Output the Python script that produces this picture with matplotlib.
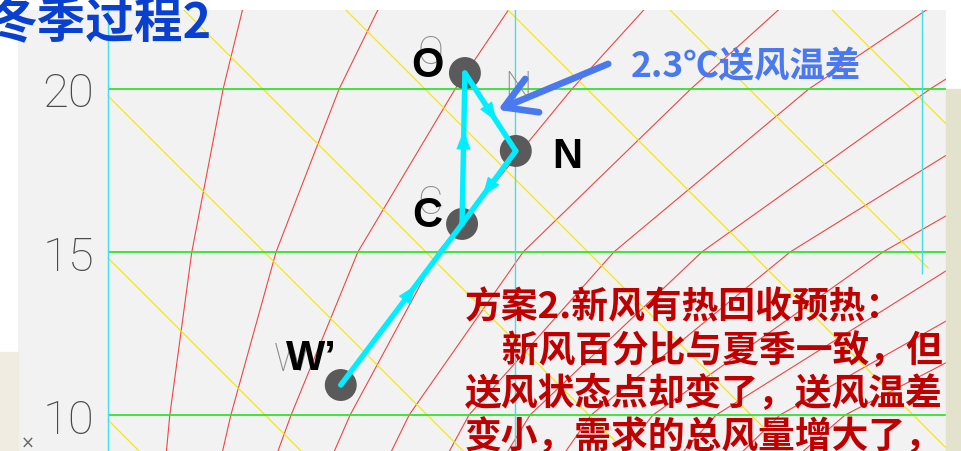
import numpy as np
import matplotlib
matplotlib.use("Agg")
import matplotlib.pyplot as plt
from matplotlib.patches import Rectangle

plt.rcParams['font.family'] = ['Noto Sans CJK SC', 'DejaVu Sans']

# ---- chart data ----
# x: moisture content d (g/kg), y: dry-bulb temperature (C)
rh_T = [22.5, 20, 15, 10, 8.8]
rh_d = [
    [6.332, 6.283, 6.206, 6.152, 6.143],
    [6.666, 6.568, 6.413, 6.302, 6.280],
    [6.988, 6.853, 6.614, 6.450, 6.415],
    [7.322, 7.140, 6.811, 6.595, 6.553],
    [7.654, 7.432, 7.020, 6.740, 6.693],
    [8.020, 7.722, 7.243, 6.887, 6.835],
    [8.339, 8.020, 7.459, 7.037, 6.978],
    [8.671, 8.322, 7.676, 7.187, 7.120],
    [8.973, 8.604, 7.904, 7.339, 7.263],
    [9.224, 8.850, 8.133, 7.494, 7.408],
    [9.469, 9.088, 8.359, 7.651, 7.553],
    [9.715, 9.322, 8.585, 7.811, 7.700],
]
# enthalpy lines: temperature where each meets d = 6, and their slope
h_T0 = [9.85, 14.82, 19.79, 24.75, 29.72, 34.69, 39.66, 44.63]
h_slope = 12.48
h_stop_d = [None, None, None, None, None, None, 8.015, None]

t_lines = [10, 15, 20]
d_lines = [6, 7, 8]
d_line_Tmin = [None, None, 14.33]

state_names = ["W\u2019", "C", "O", "N"]
state_d = [6.572, 6.870, 6.877, 7.002]
state_T = [10.92, 15.86, 20.49, 18.10]
process = [("W\u2019", "C"), ("C", "O"), ("O", "N"), ("N", "C")]

title = "冬季过程2"
note_dT = "2.3℃送风温差"
remark = [
    "方案2.新风有热回收预热：",
    "\u3000新风百分比与夏季一致，但",
    "送风状态点却变了，送风温差",
    "变小，需求的总风量增大了，",
]

XLIM = (5.779, 8.059)
YLIM = (8.896, 22.423)

CYAN = '#00eeff'
BLUE = '#4a78ee'
THIN = ['Roboto', 'Lato', 'DejaVu Sans']

fig = plt.figure(figsize=(9.62, 4.52), dpi=100, facecolor='white')
fig.patches.append(Rectangle((946 / 962, 0), 16 / 962, 0.8, transform=fig.transFigure,
                             color='#e3e2cc', zorder=0))
fig.patches.append(Rectangle((0, 0), 18 / 962, 0.22, transform=fig.transFigure,
                             color='#f1ece1', zorder=0))

ax = fig.add_axes([18 / 962, 0, 928 / 962, 441 / 452])
ax.set_facecolor('#f2f2f2')
for s in ax.spines.values():
    s.set_visible(False)
ax.set_xticks([])

# relative humidity curves
for row in rh_d:
    ax.plot(row, rh_T, color='#f04545', lw=0.8, zorder=2)

# enthalpy lines
for T0, stop in zip(h_T0, h_stop_d):
    d_end = stop if stop else XLIM[1] + 0.1
    ax.plot([6, d_end], [T0, T0 - h_slope * (d_end - 6)], color='#efe31c', lw=0.8, zorder=2)

# temperature and moisture grid
ax.hlines(t_lines, 6, XLIM[1] + 0.1, color='#2ee62e', lw=1.3, zorder=3)
for d, tmin in zip(d_lines, d_line_Tmin):
    ax.vlines(d, tmin if tmin else YLIM[0] - 1, YLIM[1] + 1, color='#3fe0e8', lw=1.0, zorder=3)

ax.set_xlim(*XLIM)
ax.set_ylim(*YLIM)

ax.set_yticks(t_lines)
ax.set_yticklabels([str(t) for t in t_lines])
ax.tick_params(axis='y', length=0, pad=-55, labelsize=34, labelcolor='#4a4a4a')
for lbl in ax.get_yticklabels():
    lbl.set_family(THIN)
    lbl.set_fontweight('light')
ax.text(5.803, 9.14, "×", fontsize=12, color='#666666', family='DejaVu Sans',
        ha='center', va='center')

pos = {n: (d, t) for n, d, t in zip(state_names, state_d, state_T)}

# faint original CAD letters
ghosts = {"O": ("O", (-34, 21)), "N": ("N", (2, 64)), "C": ("C", (-32, 22)),
          "W\u2019": ("W", (-49, 26))}
for n, (g, off) in ghosts.items():
    ax.annotate(g, pos[n], xytext=off, textcoords='offset pixels', ha='center', va='center',
                fontsize=28, color='#8a8a8a', family=THIN, fontweight='light', zorder=4)

ax.scatter(state_d, state_T, s=23 ** 2, color='#5a5a5a', edgecolors='none', zorder=5)

for a, b in process:
    pa, pb = np.array(pos[a]), np.array(pos[b])
    ax.plot([pa[0], pb[0]], [pa[1], pb[1]], color=CYAN, lw=3.9, solid_capstyle='round', zorder=6)
    f = 0.62
    ax.annotate('', xy=pa + (pb - pa) * f, xytext=pa + (pb - pa) * (f - 0.03),
                arrowprops=dict(arrowstyle='-|>,head_length=0.8,head_width=0.3',
                                mutation_scale=16, color=CYAN, lw=0.5,
                                shrinkA=0, shrinkB=0), zorder=7)

label_off = {"W\u2019": (-29, 27), "C": (-35, 9), "O": (-37, 8), "N": (51, -5)}
for n in state_names:
    ax.annotate(n, pos[n], xytext=label_off[n], textcoords='offset pixels',
                ha='center', va='center', fontsize=30, fontweight='bold',
                family=['Liberation Sans', 'DejaVu Sans'], color='black', zorder=8)

# supply temperature difference note
ax.annotate('', xy=(6.958, 19.36), xytext=(7.229, 20.77),
            arrowprops=dict(arrowstyle='->,head_length=1.1,head_width=0.65', mutation_scale=20,
                            lw=4.8, color=BLUE, shrinkA=0, shrinkB=0), zorder=8)
ax.text(7.568, 20.71, note_dT, ha='center', va='center', fontsize=25.5,
        fontweight='bold', color=BLUE, zorder=8)

fig.text(-12 / 962, 1 - 24 / 452, title, ha='left', va='center', fontsize=35,
         fontweight='black', color='#0a40d0')

for i, line in enumerate(remark):
    ax.text(6.877, 13.31 - 1.32 * i, line, ha='left', va='center', fontsize=26.5,
            fontweight='black', color='#c00000', zorder=9)

fig.savefig('out.png', dpi=100, facecolor=fig.get_facecolor())
